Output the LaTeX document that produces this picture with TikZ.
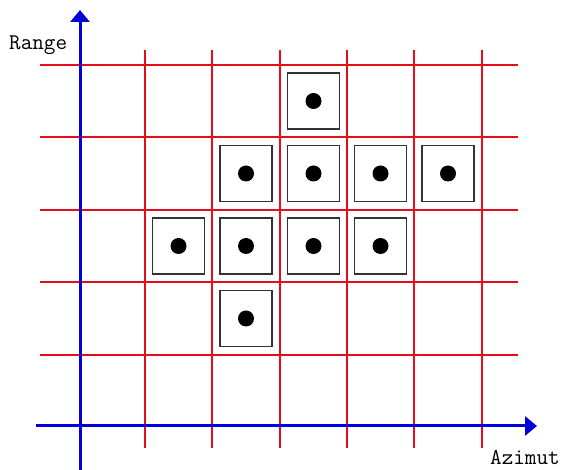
\documentclass[tikz,border=0pt]{standalone}
\usepackage{tikz}
\usetikzlibrary{arrows.meta}
\definecolor{gridred}{rgb}{0.90,0.05,0.10}
\definecolor{axisblue}{rgb}{0.00,0.00,0.85}
\tikzset{
    gridline/.style  = {gridred, line width=1.1pt},
    axisline/.style  = {axisblue, line width=3pt,
                        -{Triangle[length=12pt, width=19pt]}},
    cellbox/.style   = {draw=black!80, line width=1.3pt, fill=white,
                        minimum width=52pt, minimum height=56pt,
                        inner sep=0pt},
    axislbl/.style   = {font=\ttfamily\fontsize{22.5}{24}\selectfont,
                        anchor=base west, inner sep=0pt},
}
\begin{document}
\begin{tikzpicture}[x=1pt, y=-1pt]
\useasboundingbox (0,0) rectangle (566,470);

% red grid
\foreach \gy in {65,137,210,282,355}
    \draw[gridline] (40,\gy) -- (518,\gy);
\foreach \gx in {145,212,280,347,414,482}
    \draw[gridline] (\gx,50) -- (\gx,448);

% occupied cells
\foreach \cx/\cy/\cname in {313.5/101/a,
        246/173.5/b, 313.5/173.5/c, 380.5/173.5/d, 448/173.5/e,
        178.5/246/f, 246/246/g, 313.5/246/h, 380.5/246/i,
        246/318.5/j} {
    \node[cellbox] (cell-\cname) at (\cx,\cy) {};
    \fill[black] (cell-\cname.center) circle (8pt);
}

% axes
\coordinate (xstart) at (36,426);
\coordinate (xend)   at (537,426);
\coordinate (ystart) at (80,470);
\coordinate (yend)   at (80,10);
\draw[axisline] (xstart) -- (xend);
\draw[axisline] (ystart) -- (yend);

\node[axislbl] (rangelbl)  at (9,50)  {Range};
\node[axislbl] (azimutlbl) at (490,465) {Azimut};

\end{tikzpicture}
\end{document}
